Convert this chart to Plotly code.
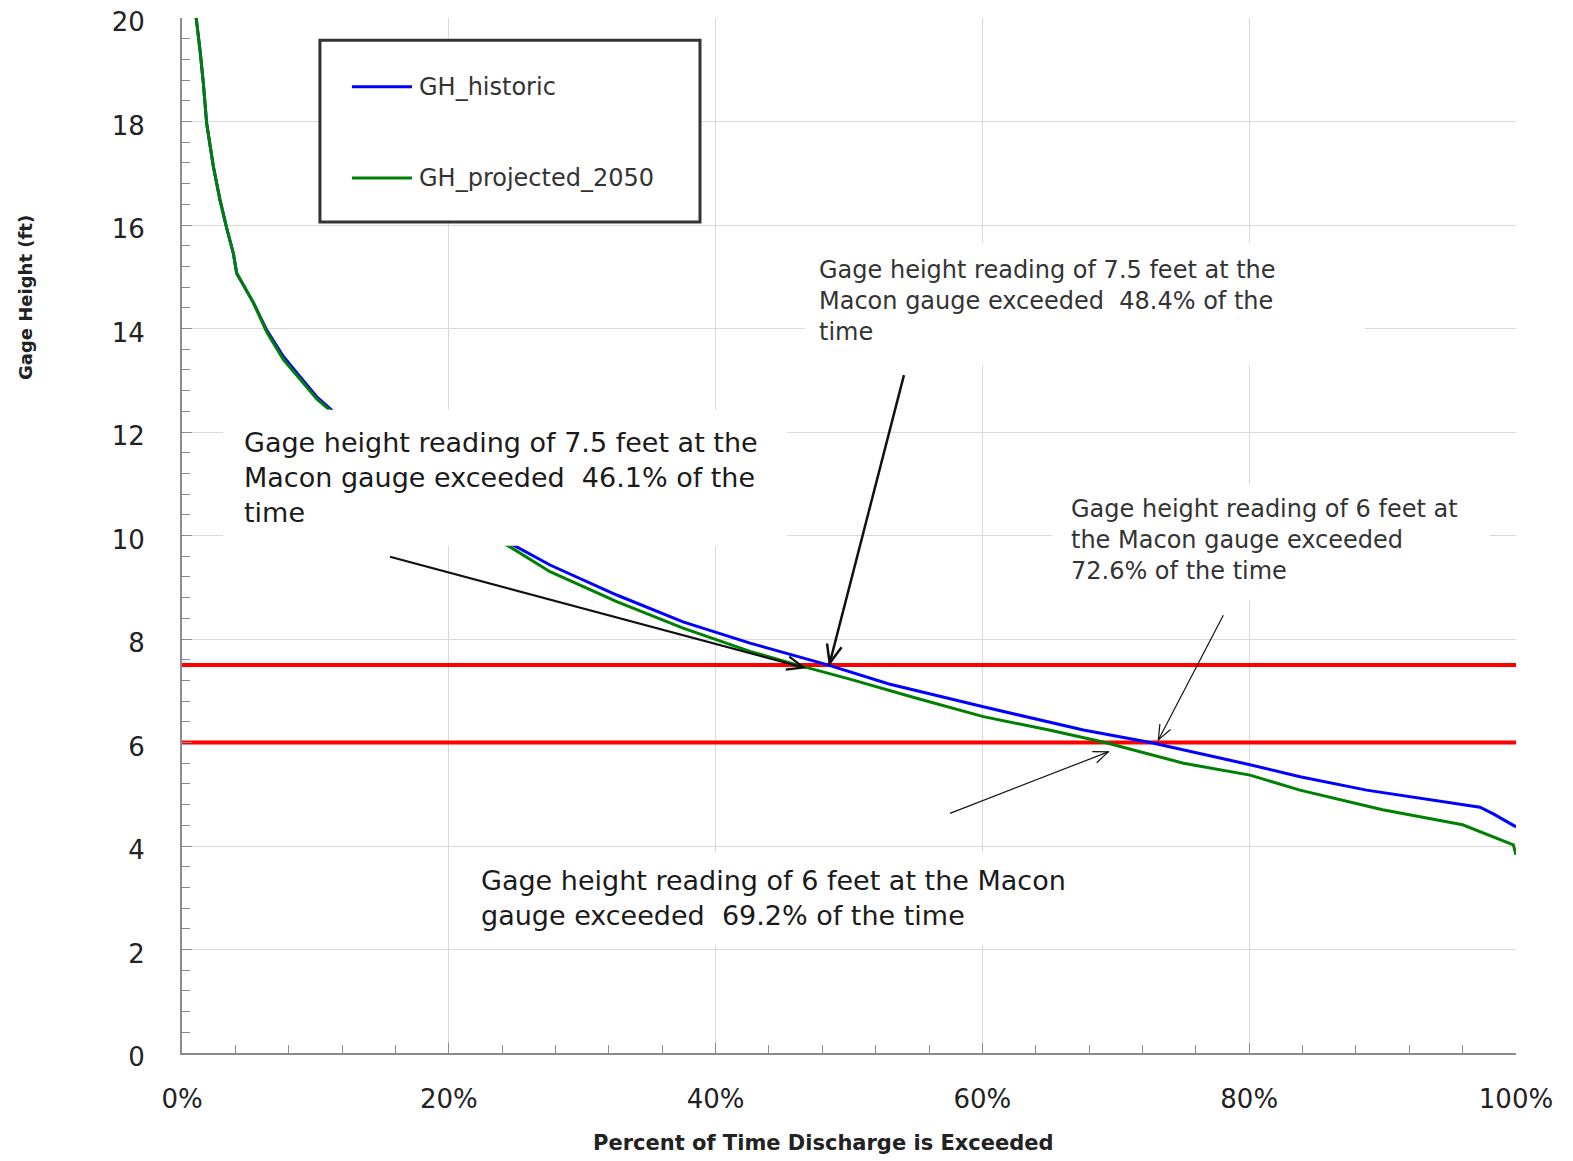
import math
import plotly.graph_objects as go

# ---------------- data ----------------
hist_x = [0.6, 1.10, 1.35, 1.6, 1.85, 2.35, 2.85, 3.35, 3.85, 4.10, 4.6, 5.35, 6.35, 7.1, 7.6, 8.85, 10.1, 11.1,
          13, 16, 20, 23, 25.09, 27.59, 32.59, 37.56, 42.58, 48.4, 53, 60.07, 67.57, 72.6, 80.06, 83.81,
          88.8, 93.8, 97.3, 98.3, 100]
hist_y = [21, 19.96, 19.38, 18.74, 17.96, 17.13, 16.48, 15.94, 15.45, 15.07, 14.85, 14.5, 13.97, 13.65, 13.46,
          13.07, 12.68, 12.45, 12.0, 11.3, 10.5, 10.05, 9.78, 9.43, 8.85, 8.33, 7.92, 7.5, 7.13, 6.69, 6.24,
          6.0, 5.57, 5.34, 5.08, 4.89, 4.75, 4.62, 4.37]

proj_x = [0.6, 1.10, 1.35, 1.6, 1.85, 2.35, 2.85, 3.35, 3.85, 4.10, 4.6, 5.35, 6.35, 7.1, 7.6, 8.85, 10.1, 11.1,
          13, 16, 20, 23, 24.59, 27.59, 32.59, 37.56, 42.58, 46.1, 50, 55, 60.07, 65, 69.2, 75.07, 80.06,
          83.8, 90.0, 96.0, 99.8, 100]
proj_y = [21, 19.96, 19.38, 18.74, 17.96, 17.13, 16.48, 15.94, 15.45, 15.07, 14.85, 14.5, 13.93, 13.6, 13.4,
          13.02, 12.64, 12.42, 11.95, 11.25, 10.45, 10.0, 9.78, 9.30, 8.72, 8.21, 7.76, 7.5, 7.23, 6.86,
          6.50, 6.24, 6.0, 5.60, 5.37, 5.08, 4.70, 4.41, 4.02, 3.83]

threshold_levels = [7.5, 6.0]
threshold_x = [0, 100]

x_ticks = [0, 20, 40, 60, 80, 100]
x_ticklabels = ["0%", "20%", "40%", "60%", "80%", "100%"]
y_ticks = [0, 2, 4, 6, 8, 10, 12, 14, 16, 18, 20]

series_names = ["GH_historic", "GH_projected_2050"]
series_colors = ["#0000FF", "#008000"]

note_texts = [
    "Gage height reading of 7.5 feet at the<br>Macon gauge exceeded  48.4% of the<br>time",
    "Gage height reading of 7.5 feet at the<br>Macon gauge exceeded  46.1% of the<br>time",
    "Gage height reading of 6 feet at<br>the Macon gauge exceeded<br>72.6% of the time",
    "Gage height reading of 6 feet at the Macon<br>gauge exceeded  69.2% of the time",
]

# ---------------- layout geometry ----------------
# page body has an 8px default margin; compensate so the plot area lands at 182..1516 x 18..1053
OFF = 8
W, H = 1573 - OFF, 1161 - OFF
PLOT_W, PLOT_H = 1334, 1035
ML, MT = 182 - OFF, 18 - OFF
MR, MB = W - ML - PLOT_W, H - MT - PLOT_H
PX_X = PLOT_W / 100.0
PX_Y = PLOT_H / 20.0

FONT = "DejaVu Sans"
TXT = "#222222"

fig = go.Figure()

for lv in threshold_levels:
    fig.add_trace(go.Scatter(x=threshold_x, y=[lv, lv], mode="lines",
                             line=dict(color="#FF0000", width=4), showlegend=False, hoverinfo="skip"))

fig.add_trace(go.Scatter(x=hist_x, y=hist_y, mode="lines", name=series_names[0],
                         line=dict(color=series_colors[0], width=3), showlegend=False))
fig.add_trace(go.Scatter(x=proj_x, y=proj_y, mode="lines", name=series_names[1],
                         line=dict(color=series_colors[1], width=3), showlegend=False))

shapes = []
annotations = []

# white text boxes that hide the grid / curves behind them
boxes = [
    (46.7, 88.7, 13.28, 15.65),
    (3.07, 45.35, 9.80, 12.43),
    (65.2, 98.05, 8.75, 10.98),
    (21.0, 68.07, 2.09, 3.88),
]
for x0, x1, y0, y1 in boxes:
    shapes.append(dict(type="rect", xref="x", yref="y", x0=x0, x1=x1, y0=y0, y1=y1,
                       fillcolor="white", line=dict(width=0), layer="above"))

# legend box
shapes.append(dict(type="rect", xref="x", yref="y", x0=10.34, x1=38.83, y0=16.06, y1=19.57,
                   fillcolor="white", line=dict(color="#333333", width=3), layer="above"))
leg_y = [18.67, 16.91]
for i in range(2):
    shapes.append(dict(type="line", xref="x", yref="y", x0=12.74, x1=17.24, y0=leg_y[i], y1=leg_y[i],
                       line=dict(color=series_colors[i], width=3), layer="above"))
    annotations.append(dict(x=17.6, y=leg_y[i], xref="x", yref="y", text=series_names[i],
                            showarrow=False, xanchor="left", yanchor="middle",
                            font=dict(family=FONT, size=24, color="#333333")))


def arrow(x0, y0, x1, y1, width, head, ang=22):
    shapes.append(dict(type="line", xref="x", yref="y", x0=x0, y0=y0, x1=x1, y1=y1,
                       line=dict(color="#111111", width=width), layer="above"))
    dx = (x1 - x0) * PX_X
    dy = -(y1 - y0) * PX_Y
    L = math.hypot(dx, dy)
    bx, by = -dx / L, -dy / L
    pts = []
    for s in (1, -1):
        a = math.radians(ang * s)
        rx = bx * math.cos(a) - by * math.sin(a)
        ry = bx * math.sin(a) + by * math.cos(a)
        pts.append((x1 + rx * head / PX_X, y1 - ry * head / PX_Y))
    path = "M {} {} L {} {} L {} {}".format(pts[0][0], pts[0][1], x1, y1, pts[1][0], pts[1][1])
    shapes.append(dict(type="path", xref="x", yref="y", path=path,
                       line=dict(color="#111111", width=width), layer="above"))


arrow(54.12, 13.10, 48.55, 7.53, 2.5, 20)
arrow(15.59, 9.59, 46.6, 7.45, 2.2, 18)
arrow(78.06, 8.46, 73.19, 6.05, 1.2, 16)
arrow(57.57, 4.63, 69.44, 5.82, 1.2, 16)

# annotation texts
note_pos = [(47.6, 15.44, 24, "#333333"), (4.5, 12.14, 27, "#1a1a1a"),
            (66.5, 10.83, 24, "#333333"), (22.3, 3.68, 27, "#1a1a1a")]
for t, (x, y, fs, col) in zip(note_texts, note_pos):
    annotations.append(dict(x=x, y=y, xref="x", yref="y", text=t, showarrow=False,
                            xanchor="left", yanchor="top", align="left",
                            font=dict(family=FONT, size=fs, color=col)))

# axis titles (positions relative to plot area)
annotations.append(dict(x=(25 - 182) / PLOT_W, y=(1053 - 298) / PLOT_H, xref="paper", yref="paper",
                        text="<b>Gage Height (ft)</b>", textangle=-90, showarrow=False,
                        xanchor="center", yanchor="middle", font=dict(family=FONT, size=18, color=TXT)))
annotations.append(dict(x=(823 - 182) / PLOT_W, y=-(1143 - 1053) / PLOT_H, xref="paper", yref="paper",
                        text="<b>Percent of Time Discharge is Exceeded</b>", showarrow=False,
                        xanchor="center", yanchor="middle", font=dict(family=FONT, size=21, color=TXT)))

fig.update_layout(
    width=W, height=H, autosize=False,
    margin=dict(l=ML, r=MR, t=MT, b=MB, autoexpand=False),
    paper_bgcolor="white", plot_bgcolor="white",
    showlegend=False,
    shapes=shapes, annotations=annotations,
    xaxis=dict(range=[0, 100], tickmode="array", tickvals=x_ticks, ticktext=x_ticklabels,
               showgrid=True, gridcolor="#d9d9d9", gridwidth=1, automargin=False,
               showline=True, linecolor="#8c8c8c", linewidth=2,
               ticks="inside", ticklen=10, tickcolor="#8c8c8c", tickwidth=1,
               minor=dict(dtick=4, ticks="inside", ticklen=8, tickcolor="#8c8c8c", showgrid=False),
               ticklabelstandoff=22, zeroline=False, ticklabeloverflow="allow",
               tickfont=dict(family=FONT, size=26, color=TXT)),
    yaxis=dict(range=[0, 20], tickmode="array", tickvals=y_ticks,
               showgrid=True, gridcolor="#d9d9d9", gridwidth=1, automargin=False,
               showline=True, linecolor="#8c8c8c", linewidth=2,
               ticks="inside", ticklen=10, tickcolor="#8c8c8c", tickwidth=1,
               minor=dict(dtick=0.4, ticks="inside", ticklen=8, tickcolor="#8c8c8c", showgrid=False),
               ticklabelstandoff=30, ticklabelshift=4, zeroline=False, ticklabeloverflow="allow",
               tickfont=dict(family=FONT, size=26, color=TXT)),
)

fig.write_html("out.html")
